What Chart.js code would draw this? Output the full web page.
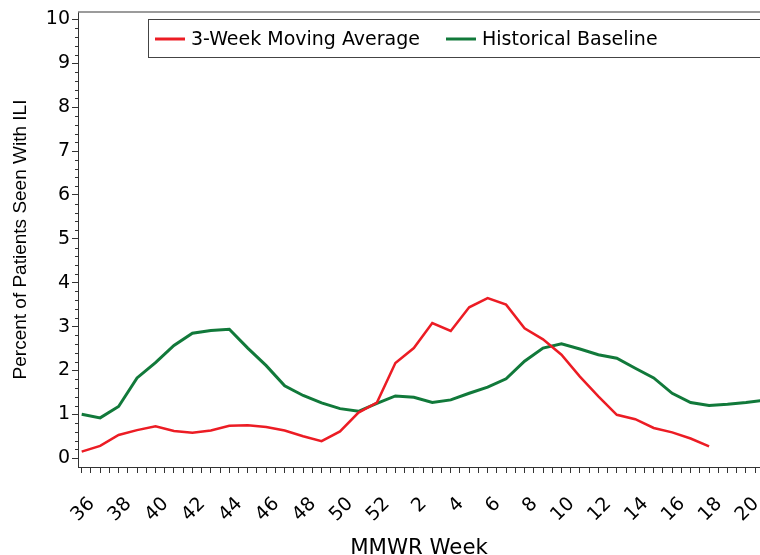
<!DOCTYPE html>
<html lang="en">
<head>
<meta charset="UTF-8">
<title>ILI</title>
<script src="https://cdn.jsdelivr.net/npm/chart.js@4.4.0/dist/chart.umd.min.js"></script>
<style>
  body { margin: 0; background: #fff; }
</style>
</head>
<body>
<canvas id="myChart" width="760" height="555"></canvas>
<script>
// MMWR weeks, season 36 .. 21 (week 21 is only partly visible at the right edge)
const weeks = [36, 37, 38, 39, 40, 41, 42, 43, 44, 45, 46, 47, 48, 49, 50, 51, 52,
               1, 2, 3, 4, 5, 6, 7, 8, 9, 10, 11, 12, 13, 14, 15, 16, 17, 18, 19, 20, 21];
const tickLabels = ['36', '38', '40', '42', '44', '46', '48', '50', '52',
                    '2', '4', '6', '8', '10', '12', '14', '16', '18', '20'];

const movingAvg = [0.15, 0.28, 0.53, 0.64, 0.73, 0.62, 0.58, 0.63, 0.74, 0.75, 0.71, 0.63,
                   0.50, 0.39, 0.61, 1.04, 1.27, 2.17, 2.51, 3.08, 2.90, 3.44, 3.65, 3.50,
                   2.96, 2.71, 2.36, 1.86, 1.41, 0.99, 0.89, 0.69, 0.59, 0.45, 0.27];
const baseline = [1.00, 0.92, 1.18, 1.83, 2.18, 2.57, 2.85, 2.91, 2.94, 2.51, 2.11, 1.65,
                  1.43, 1.26, 1.13, 1.07, 1.25, 1.42, 1.39, 1.27, 1.33, 1.48, 1.62, 1.81,
                  2.21, 2.51, 2.61, 2.49, 2.36, 2.28, 2.05, 1.83, 1.48, 1.27, 1.20, 1.23,
                  1.27, 1.32];

const toPoints = vals => vals.map((v, i) => ({ x: i, y: v }));

const sans = "'DejaVu Sans', sans-serif";

// frame line on top, short minor ticks on y, and the boxed legend inside the plot
const extras = {
    id: 'extras',
    afterDraw(chart) {
        const { ctx, chartArea: a, scales: { y } } = chart;
        ctx.save();
        ctx.strokeStyle = '#7a7a7a';
        ctx.lineWidth = 1.5;
        ctx.beginPath();
        ctx.moveTo(a.left, a.top);
        ctx.lineTo(a.right, a.top);
        ctx.stroke();

        ctx.strokeStyle = '#333';
        ctx.lineWidth = 1;
        for (let k = 1; k < 50; k++) {
            if (k % 5 === 0) continue;
            const py = Math.round(y.getPixelForValue(k / 5)) + 0.5;
            ctx.beginPath();
            ctx.moveTo(a.left - 3, py);
            ctx.lineTo(a.left, py);
            ctx.stroke();
        }

        // legend
        const bx = a.left + 70, by = a.top + 7, bh = 38;
        ctx.strokeStyle = '#444';
        ctx.lineWidth = 1;
        ctx.strokeRect(bx + 0.5, by + 0.5, chart.width + 20 - bx, bh);
        ctx.font = '19px ' + sans;
        ctx.textBaseline = 'middle';
        ctx.fillStyle = '#000';
        let x = bx + 7;
        const cy = by + bh / 2 + 1;
        chart.data.datasets.forEach(ds => {
            ctx.strokeStyle = ds.borderColor;
            ctx.lineWidth = 3;
            ctx.beginPath();
            ctx.moveTo(x, cy);
            ctx.lineTo(x + 30, cy);
            ctx.stroke();
            ctx.fillText(ds.label, x + 36, cy + 1);
            x += 36 + ctx.measureText(ds.label).width + 26;
        });
        ctx.restore();
    }
};

const ctx = document.getElementById('myChart').getContext('2d');
const myChart = new Chart(ctx, {
    type: 'line',
    data: {
        datasets: [{
            label: '3-Week Moving Average',
            data: toPoints(movingAvg),
            borderColor: '#ec1c24',
            backgroundColor: '#ec1c24',
            borderWidth: 2.5,
            pointRadius: 0,
            tension: 0
        }, {
            label: 'Historical Baseline',
            data: toPoints(baseline),
            borderColor: '#11793a',
            backgroundColor: '#11793a',
            borderWidth: 3,
            pointRadius: 0,
            tension: 0
        }]
    },
    options: {
        responsive: false,
        animation: false,
        layout: { padding: { top: 12, left: 0, right: 0, bottom: 0 } },
        plugins: {
            legend: { display: false },
            tooltip: { enabled: false }
        },
        scales: {
            x: {
                type: 'linear',
                min: -0.2,
                max: 36.76,
                border: { display: true, color: '#333', width: 1 },
                grid: { drawOnChartArea: false, drawTicks: true, tickLength: 6, color: '#333' },
                ticks: {
                    stepSize: 0.5,
                    includeBounds: false,
                    autoSkip: false,
                    minRotation: 45,
                    maxRotation: 45,
                    labelOffset: 10,
                    padding: 20,
                    color: '#000',
                    font: { family: sans, size: 19 },
                    callback: v => (Number.isInteger(v) && v % 2 === 0) ? tickLabels[v / 2] : ''
                },
                title: {
                    display: true,
                    text: 'MMWR Week',
                    color: '#000',
                    font: { family: sans, size: 21.3 },
                    padding: { top: 0, bottom: -6 }
                },
                afterFit: s => { s.height = 88; s.paddingLeft = 0; s.paddingRight = 0; }
            },
            y: {
                min: -0.2,
                max: 10.17,
                border: { display: true, color: '#333', width: 1 },
                grid: { drawOnChartArea: false, drawTicks: true, tickLength: 6, color: '#333' },
                ticks: {
                    stepSize: 1,
                    includeBounds: false,
                    padding: 2,
                    color: '#000',
                    font: { family: sans, size: 19 }
                },
                title: {
                    display: true,
                    text: 'Percent of Patients Seen With ILI',
                    color: '#000',
                    font: { family: "'Liberation Sans', Arial, sans-serif", size: 19 },
                    padding: { top: 9.6, bottom: 0 }
                },
                afterFit: s => { s.width = 78; s.paddingTop = 0; s.paddingBottom = 0; }
            }
        }
    },
    plugins: [extras]
});
</script>
</body>
</html>
